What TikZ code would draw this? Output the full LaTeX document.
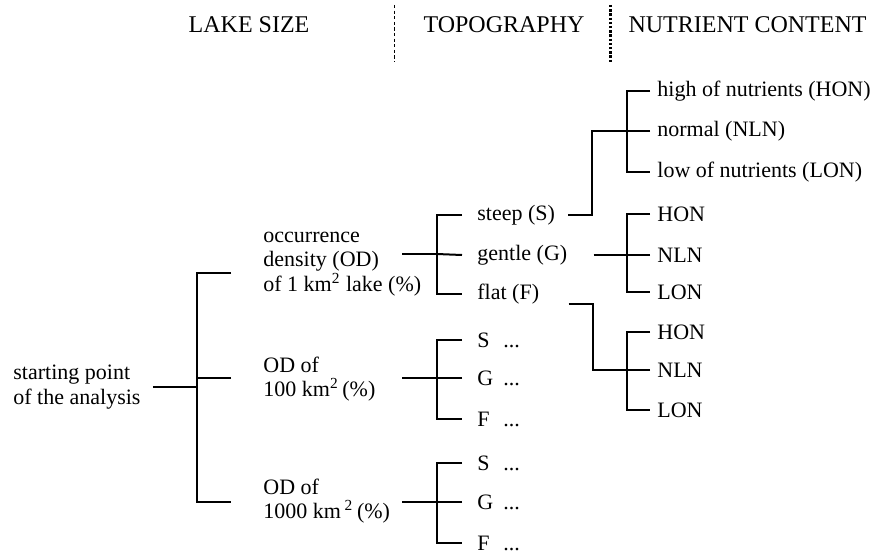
\documentclass[tikz,border=0pt]{standalone}
\usepackage{fontspec}
\setmainfont{Liberation Serif}
\usetikzlibrary{calc}
\tikzset{
    headtext/.style={font=\fontsize{12}{14}\selectfont, inner sep=0pt},
    itemtext/.style={font=\fontsize{11}{12.2}\selectfont, align=left,
        anchor=west, inner sep=0pt},
    branch/.style={line width=1pt},
    septhin/.style={line width=0.5pt, dash pattern=on 1.6pt off 1.2pt},
    septhick/.style={line width=1.5pt, dash pattern=on 1.2pt off 0.9pt},
}

\begin{document}
\begin{tikzpicture}[x=0.5pt, y=-0.5pt]
\useasboundingbox (0,0) rectangle (877,556);

% Headings
\node[headtext] (hsize) at (249,24.5) {LAKE SIZE};
\node[headtext] (htopo) at (504,24.5) {TOPOGRAPHY};
\node[headtext] (hnutr) at (747.5,24.5) {NUTRIENT CONTENT};
\draw[septhin] (394.5,5) -- (394.5,62);
\draw[septhick] (610.5,5) -- (610.5,62);

% Start
\node[itemtext] (root) at (13,387) {starting point\\of the analysis};

% Lake size
\node[itemtext] (od1) at (263,264) {occurrence\\density (OD)\\of 1 km\textsuperscript{2} lake (\%)};
\node[itemtext] (od2) at (263,379) {OD of\\100 km\textsuperscript{2}\,(\%)};
\node[itemtext] (od3) at (263,501) {OD of\\1000 km\,\textsuperscript{2}\,(\%)};

% Topography
\node[itemtext] (s1) at (477,215) {steep (S)};
\node[itemtext] (g1) at (477,255) {gentle (G)};
\node[itemtext] (f1) at (477,294) {flat (F)};
\node[itemtext] (s2) at (477,340) {\makebox[13pt][l]{S}...};
\node[itemtext] (g2) at (477,378) {\makebox[13pt][l]{G}...};
\node[itemtext] (f2) at (477,419) {\makebox[13pt][l]{F}...};
\node[itemtext] (s3) at (477,463) {\makebox[13pt][l]{S}...};
\node[itemtext] (g3) at (477,502) {\makebox[13pt][l]{G}...};
\node[itemtext] (f3) at (477,543) {\makebox[13pt][l]{F}...};

% Nutrient content
\node[itemtext] (hon1) at (657,91) {high of nutrients (HON)};
\node[itemtext] (nln1) at (657,131) {normal (NLN)};
\node[itemtext] (lon1) at (657,172) {low of nutrients (LON)};
\node[itemtext] (hon2) at (657,214) {HON};
\node[itemtext] (nln2) at (657,255) {NLN};
\node[itemtext] (lon2) at (657,292) {LON};
\node[itemtext] (hon3) at (657,332) {HON};
\node[itemtext] (nln3) at (657,370) {NLN};
\node[itemtext] (lon3) at (657,410) {LON};

% Junctions
\coordinate (jl) at (197,387);
\coordinate (jt1) at (437,254);
\coordinate (jt2) at (437,378);
\coordinate (jt3) at (437,502);
\coordinate (jn1) at (627,131);
\coordinate (jn2) at (627,255);
\coordinate (jn3) at (627,370);

% Start -> lake size
\draw[branch] ($(root.east)+(12,0)$) -- (jl);
\draw[branch] ($(od1.west)+(-32,9)$) -| (jl) |- ($(od3.west)+(-32,1)$);
\draw[branch] ($(od2.west)+(-32,-1)$) -- (jl |- jt2);

% Lake size -> topography
\draw[branch] ($(od1.west)+(139,-10)$) -- (jt1);
\draw[branch] ($(s1.west)+(-15,0)$) -| (jt1) |- ($(f1.west)+(-15,0)$);
\draw[branch] ($(g1.west)+(-15,0)$) -- (jt1);
\draw[branch] ($(od2.west)+(139,-1)$) -- (jt2);
\draw[branch] ($(s2.west)+(-15,0)$) -| (jt2) |- ($(f2.west)+(-15,0)$);
\draw[branch] ($(g2.west)+(-15,0)$) -- (jt2);
\draw[branch] ($(od3.west)+(139,1)$) -- (jt3);
\draw[branch] ($(s3.west)+(-15,0)$) -| (jt3) |- ($(f3.west)+(-15,0)$);
\draw[branch] ($(g3.west)+(-15,0)$) -- (jt3);

% Topography -> nutrient content
\draw[branch] ($(s1.east)+(13,0)$) -- ++(24,0) |- (jn1);
\draw[branch] ($(hon1.west)+(-7,0)$) -| (jn1) |- ($(lon1.west)+(-7,0)$);
\draw[branch] ($(nln1.west)+(-7,0)$) -- (jn1);
\draw[branch] ($(g1.east)+(26,0)$) -- (jn2);
\draw[branch] ($(hon2.west)+(-7,0)$) -| (jn2) |- ($(lon2.west)+(-7,0)$);
\draw[branch] ($(nln2.west)+(-7,0)$) -- (jn2);
\draw[branch] ($(f1.east)+(29,10)$) -- ++(24,0) |- (jn3);
\draw[branch] ($(hon3.west)+(-7,0)$) -| (jn3) |- ($(lon3.west)+(-7,0)$);
\draw[branch] ($(nln3.west)+(-7,0)$) -- (jn3);

\end{tikzpicture}
\end{document}
